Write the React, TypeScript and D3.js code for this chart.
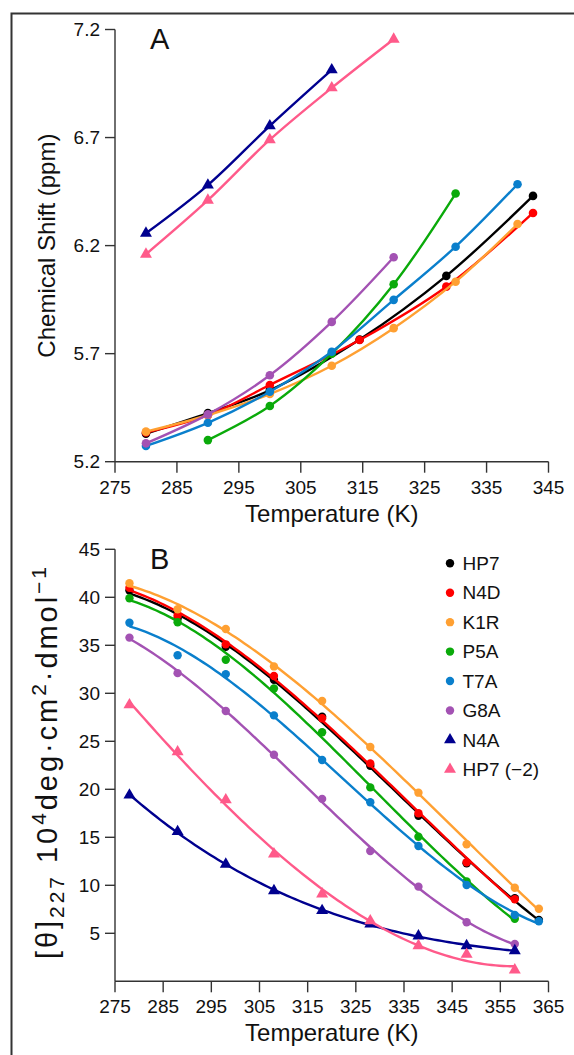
import React from "react";
import * as d3 from "d3";

// ---------- Panel A data ----------
const seriesNames = ["HP7", "N4D", "K1R", "P5A", "T7A", "G8A", "N4A", "HP7 (\u22122)"];
const seriesColors = ["#000000", "#ff0000", "#ffa032", "#0aaa0a", "#0a7fcc", "#a352b3", "#00008f", "#ff5a8a"];
const seriesShapes = ["circle", "circle", "circle", "circle", "circle", "circle", "triangle", "triangle"];

const aTempHP7 = [280, 290, 300, 314.5, 328.5, 342.5];
const aShiftHP7 = [5.33, 5.425, 5.53, 5.765, 6.06, 6.43];
const aTempN4D = [280, 290, 300, 314.5, 328.5, 342.5];
const aShiftN4D = [5.335, 5.415, 5.555, 5.763, 6.01, 6.351];
const aTempK1R = [280, 290, 300, 310, 320, 330, 340];
const aShiftK1R = [5.339, 5.415, 5.513, 5.644, 5.818, 6.033, 6.3];
const aTempP5A = [290, 300, 310, 320, 330];
const aShiftP5A = [5.3, 5.458, 5.7, 6.021, 6.441];
const aTempT7A = [280, 290, 300, 310, 320, 330, 340];
const aShiftT7A = [5.273, 5.38, 5.524, 5.709, 5.949, 6.195, 6.484];
const aTempG8A = [280, 290, 300, 310, 320];
const aShiftG8A = [5.285, 5.419, 5.6, 5.847, 6.146];
const aTempN4A = [280, 290, 300, 310];
const aShiftN4A = [6.257, 6.48, 6.754, 7.013];
const aTempHP7m2 = [280, 290, 300, 310, 320];
const aShiftHP7m2 = [6.16, 6.41, 6.69, 6.93, 7.155];

const aXTicks = [275, 285, 295, 305, 315, 325, 335, 345];
const aYTicks = [5.2, 5.7, 6.2, 6.7, 7.2];

// ---------- Panel B data ----------
const bTemp9 = [278, 288, 298, 308, 318, 328, 338, 348, 358];
const bTemp10 = [278, 288, 298, 308, 318, 328, 338, 348, 358, 363];
const bHP7 = [40.7, 37.8, 34.85, 31.4, 27.56, 22.46, 17.25, 12.3, 8.65, 6.4];
const bN4D = [41.0, 38.1, 35.1, 31.8, 27.4, 22.7, 17.5, 12.4, 8.54];
const bK1R = [41.46, 38.75, 36.7, 32.8, 29.2, 24.4, 19.65, 14.27, 9.75, 7.56];
const bP5A = [39.9, 37.4, 33.5, 30.5, 25.94, 20.2, 15.06, 10.4, 6.52];
const bT7A = [37.35, 33.96, 32.0, 27.7, 23.05, 18.65, 14.1, 10.03, 6.9, 6.25];
const bG8A = [35.8, 32.1, 28.15, 23.6, 19.0, 13.57, 9.86, 6.15, 3.89];
const bN4A = [19.4, 15.6, 12.2, 9.44, 7.36, 5.97, 4.72, 3.71, 3.19];
const bHP7m2 = [28.8, 23.9, 18.9, 13.26, 9.1, 6.3, 3.7, 2.8, 1.18];

const bXTicks = [275, 285, 295, 305, 315, 325, 335, 345, 355, 365];
const bYTicks = [5, 10, 15, 20, 25, 30, 35, 40, 45];

type Pt = { x: number; y: number };
const zipPts = (xs: number[], ys: number[]): Pt[] => ys.map((y, i) => ({ x: xs[i], y }));

const seriesA: Pt[][] = [
  zipPts(aTempHP7, aShiftHP7),
  zipPts(aTempN4D, aShiftN4D),
  zipPts(aTempK1R, aShiftK1R),
  zipPts(aTempP5A, aShiftP5A),
  zipPts(aTempT7A, aShiftT7A),
  zipPts(aTempG8A, aShiftG8A),
  zipPts(aTempN4A, aShiftN4A),
  zipPts(aTempHP7m2, aShiftHP7m2),
];
const seriesB: Pt[][] = [
  zipPts(bTemp10, bHP7),
  zipPts(bTemp9, bN4D),
  zipPts(bTemp10, bK1R),
  zipPts(bTemp9, bP5A),
  zipPts(bTemp10, bT7A),
  zipPts(bTemp9, bG8A),
  zipPts(bTemp9, bN4A),
  zipPts(bTemp9, bHP7m2),
];

// least-squares cubic fit (smooth fitted curve like the reference)
function cubicFit(pts: Pt[]) {
  const n = 4;
  const M = Array.from({ length: n }, () => new Array(n + 1).fill(0));
  const norm = (x: number) => (x - 320) / 50;
  pts.forEach((p) => {
    const t = norm(p.x);
    const pw = [1, t, t * t, t * t * t];
    for (let i = 0; i < n; i++) {
      for (let j = 0; j < n; j++) M[i][j] += pw[i] * pw[j];
      M[i][n] += pw[i] * p.y;
    }
  });
  for (let c = 0; c < n; c++) {
    let piv = c;
    for (let r = c + 1; r < n; r++) if (Math.abs(M[r][c]) > Math.abs(M[piv][c])) piv = r;
    [M[c], M[piv]] = [M[piv], M[c]];
    for (let r = 0; r < n; r++) {
      if (r === c) continue;
      const f = M[r][c] / M[c][c];
      for (let k = c; k <= n; k++) M[r][k] -= f * M[c][k];
    }
  }
  const coef = M.map((row, i) => row[n] / row[i]);
  return (x: number) => {
    const t = norm(x);
    return coef[0] + coef[1] * t + coef[2] * t * t + coef[3] * t * t * t;
  };
}

const FONT = "'Liberation Sans', Arial, Helvetica, sans-serif";
const AXIS_COLOR = "#333";

const xA = d3.scaleLinear().domain([275, 345]).range([115, 548.5]);
const yA = d3.scaleLinear().domain([5.2, 7.2]).range([461.7, 29.5]);
const xB = d3.scaleLinear().domain([275, 365]).range([115, 548.5]);
const yB = d3.scaleLinear().domain([0, 45]).range([981.3, 549.3]);

const triPath = d3.symbol(d3.symbolTriangle, 62)() as string;

function Marker({ shape, x, y, color, r }: { shape: string; x: number; y: number; color: string; r: number }) {
  if (shape === "triangle") return <path d={triPath} transform={`translate(${x},${y})`} fill={color} />;
  return <circle cx={x} cy={y} r={r} fill={color} />;
}

export default function App() {
  const lineA = d3
    .line<Pt>()
    .x((d) => xA(d.x))
    .y((d) => yA(d.y))
    .curve(d3.curveCatmullRom.alpha(0.5));
  const lineB = d3
    .line<Pt>()
    .x((d) => xB(d.x))
    .y((d) => yB(d.y));

  const fitsB = seriesB.map((pts) => {
    const f = cubicFit(pts);
    const x0 = pts[0].x;
    const x1 = pts[pts.length - 1].x;
    return d3.range(0, 101).map((i) => {
      const x = x0 + ((x1 - x0) * i) / 100;
      return { x, y: f(x) };
    });
  });

  const legendY0 = 563.3;
  const legendStep = 29.43;

  return (
    <svg width={574} height={1055} style={{ display: "block", position: "absolute", left: 0, top: 0 }} fontFamily={FONT}>
      <rect x={0} y={0} width={574} height={1055} fill="#fff" />
      {/* outer frame */}
      <rect x={11.5} y={13.5} width={572} height={1100} fill="none" stroke="#333" strokeWidth={2} />

      {/* ================= Panel A ================= */}
      <g>
        <line x1={xA(275)} x2={xA(275)} y1={yA(7.2)} y2={yA(5.2)} stroke={AXIS_COLOR} strokeWidth={1.4} />
        <line x1={xA(275)} x2={xA(345)} y1={yA(5.2)} y2={yA(5.2)} stroke={AXIS_COLOR} strokeWidth={1.4} />
        {aYTicks.map((t) => (
          <g key={"ay" + t}>
            <line x1={xA(275) - 10} x2={xA(275)} y1={yA(t)} y2={yA(t)} stroke={AXIS_COLOR} strokeWidth={1.4} />
            <text x={xA(275) - 15} y={yA(t)} dy="0.35em" textAnchor="end" fontSize={19} fill="#111">
              {t.toFixed(1)}
            </text>
          </g>
        ))}
        {aXTicks.map((t) => (
          <g key={"ax" + t}>
            <line x1={xA(t)} x2={xA(t)} y1={yA(5.2)} y2={yA(5.2) + 11} stroke={AXIS_COLOR} strokeWidth={1.4} />
            <text x={xA(t)} y={494} textAnchor="middle" fontSize={19} fill="#111">
              {t}
            </text>
          </g>
        ))}
        <text x={(xA(275) + xA(345)) / 2} y={522} textAnchor="middle" fontSize={24} fill="#111">
          Temperature (K)
        </text>
        <text transform={`translate(55,${(yA(7.2) + yA(5.2)) / 2}) rotate(-90)`} textAnchor="middle" fontSize={24} fill="#111">
          Chemical Shift (ppm)
        </text>
        <text x={150} y={49} fontSize={29} fill="#111">
          A
        </text>

        {seriesA.map((pts, i) => (
          <g key={"sa" + i}>
            <path d={lineA(pts) as string} fill="none" stroke={seriesColors[i]} strokeWidth={2.4} />
            {pts.map((p, j) => (
              <Marker key={j} shape={seriesShapes[i]} x={xA(p.x)} y={yA(p.y)} color={seriesColors[i]} r={4.3} />
            ))}
          </g>
        ))}
      </g>

      {/* ================= Panel B ================= */}
      <g>
        <line x1={xB(275)} x2={xB(275)} y1={yB(45)} y2={yB(0)} stroke={AXIS_COLOR} strokeWidth={1.4} />
        <line x1={xB(275)} x2={xB(365)} y1={yB(0)} y2={yB(0)} stroke={AXIS_COLOR} strokeWidth={1.4} />
        {bYTicks.map((t) => (
          <g key={"by" + t}>
            <line x1={xB(275) - 10} x2={xB(275)} y1={yB(t)} y2={yB(t)} stroke={AXIS_COLOR} strokeWidth={1.4} />
            <text x={xB(275) - 15} y={yB(t)} dy="0.35em" textAnchor="end" fontSize={19} fill="#111">
              {t}
            </text>
          </g>
        ))}
        {bXTicks.map((t) => (
          <g key={"bx" + t}>
            <line x1={xB(t)} x2={xB(t)} y1={yB(0)} y2={yB(0) + 11} stroke={AXIS_COLOR} strokeWidth={1.4} />
            <text x={xB(t)} y={1013} textAnchor="middle" fontSize={19} fill="#111">
              {t}
            </text>
          </g>
        ))}
        <text x={(xB(275) + xB(365)) / 2} y={1041} textAnchor="middle" fontSize={24} fill="#111">
          Temperature (K)
        </text>
        <text
          transform={`translate(57,763) rotate(-90)`}
          textAnchor="middle"
          fontSize={29}
          fill="#111"
          textLength={392}
          lengthAdjust="spacing"
        >
          <tspan>[θ]</tspan>
          <tspan fontSize={21} dy={7}>227</tspan>
          <tspan dy={-7}> 10</tspan>
          <tspan fontSize={21} dy={-11}>4</tspan>
          <tspan dy={11}>deg·cm</tspan>
          <tspan fontSize={21} dy={-11}>2</tspan>
          <tspan dy={11}>·dmol</tspan>
          <tspan fontSize={21} dy={-11}>{"\u22121"}</tspan>
        </text>
        <text x={150} y={569} fontSize={29} fill="#111">
          B
        </text>

        {seriesB.map((pts, i) => (
          <g key={"sb" + i}>
            <path d={lineB(fitsB[i]) as string} fill="none" stroke={seriesColors[i]} strokeWidth={2.4} />
            {pts.map((p, j) => (
              <Marker key={j} shape={seriesShapes[i]} x={xB(p.x)} y={yB(p.y)} color={seriesColors[i]} r={4.2} />
            ))}
          </g>
        ))}

        {seriesNames.map((name, i) => {
          const y = legendY0 + i * legendStep;
          return (
            <g key={"lg" + i}>
              {seriesShapes[i] === "triangle" ? (
                <path d={triPath} transform={`translate(450,${y})`} fill={seriesColors[i]} />
              ) : (
                <circle cx={450} cy={y} r={4.2} fill={seriesColors[i]} />
              )}
              <text x={462.5} y={y} dy="0.35em" fontSize={19} fill="#111">
                {name}
              </text>
            </g>
          );
        })}
      </g>
    </svg>
  );
}
